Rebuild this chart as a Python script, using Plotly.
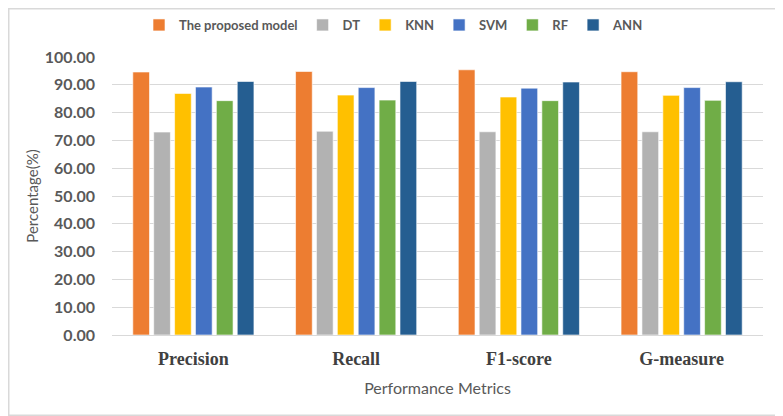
import plotly.graph_objects as go

categories = ["Precision", "Recall", "F1-score", "G-measure"]
models = ["The proposed model", "DT", "KNN", "SVM", "RF", "ANN"]
proposed = [94.6, 94.8, 95.4, 94.7]
dt = [73.0, 73.3, 73.1, 73.1]
knn = [86.9, 86.3, 85.6, 86.2]
svm = [89.2, 89.0, 88.8, 89.0]
rf = [84.3, 84.5, 84.3, 84.4]
ann = [91.2, 91.2, 91.0, 91.1]
series = [proposed, dt, knn, svm, rf, ann]
colors = ["#ED7D31", "#B2B2B2", "#FFC000", "#4472C4", "#70AD47", "#255E91"]
yticks = [i * 10 for i in range(11)]

# page body adds an 8px offset; size the figure so it lands where the reference does
W, H = 775, 408
L, R, T, B = 104, 20, 49, 81
pw = W - L - R
ph = H - T - B

fig = go.Figure()
for name, vals, c in zip(models, series, colors):
    fig.add_trace(go.Bar(x=categories, y=vals, name=name,
                         marker=dict(color=c, line=dict(color="rgba(255,255,255,0.6)", width=1))))

fig.add_shape(type="rect", xref="paper", yref="paper",
              x0=(-L + 0.75) / pw, x1=1 + (R - 0.75) / pw,
              y0=(-B + 0.75) / ph, y1=1 + (T - 0.75) / ph,
              line=dict(color="#D9D9D9", width=1.5), layer="below")

fig.update_layout(
    width=W, height=H,
    margin=dict(l=L, r=R, t=T, b=B, autoexpand=False),
    paper_bgcolor="white", plot_bgcolor="white",
    barmode="group", bargap=0.23, bargroupgap=0.2,
    font=dict(family="Lato", color="#595959"),
    legend=dict(orientation="h", x=(386 - L) / pw, xanchor="center",
                y=1 + 32 / ph, yanchor="middle",
                font=dict(size=13, color="#595959", weight="bold"),
                itemwidth=30, traceorder="normal"),
    xaxis=dict(showgrid=False, showline=True, linecolor="#D9D9D9", linewidth=1,
               automargin=False,
               tickfont=dict(family="Liberation Serif", size=18, color="#404040", weight="bold"),
               ticks="", ticklabelstandoff=7,
               title=dict(text="Performance Metrics", standoff=15,
                          font=dict(family="Lato", size=16, color="#595959"))),
    yaxis=dict(range=[0, 100], tickvals=yticks, tickformat=".2f", showgrid=True,
               gridcolor="#D9D9D9", gridwidth=1, zeroline=False, ticks="",
               automargin=False,
               tickfont=dict(family="Lato", size=16, color="#595959", weight="bold"),
               ticklabelstandoff=16,
               title=dict(text="Percentage(%)", standoff=2,
                          font=dict(family="Lato", size=15, color="#595959"))),
)
fig.write_html("out.html")
